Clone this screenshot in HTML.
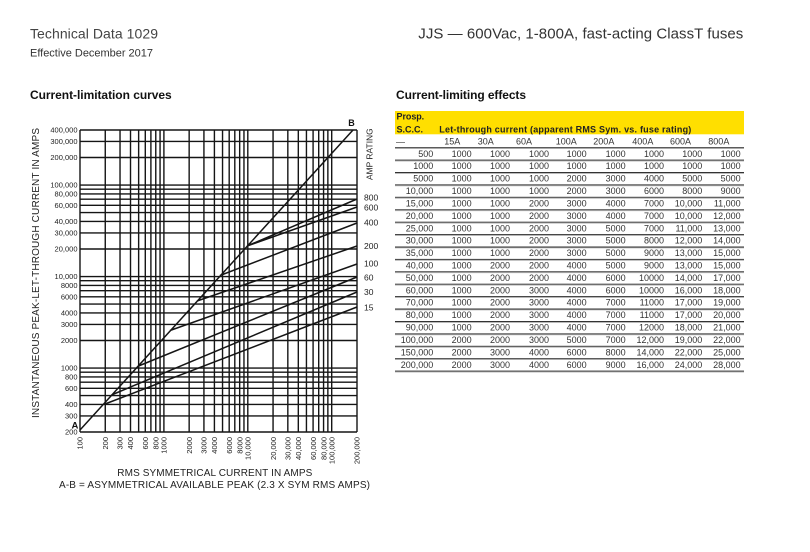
<!DOCTYPE html>
<html><head><meta charset="utf-8"><style>
html,body{margin:0;padding:0;background:#fff;}
svg{display:block;}
text{font-family:"Liberation Sans",sans-serif;}
</style></head><body>
<svg width="810" height="552" viewBox="0 0 810 552" xmlns="http://www.w3.org/2000/svg">
<rect width="810" height="552" fill="#fff"/>
<!-- headers -->
<text x="30" y="38.3" font-size="14" fill="#444" textLength="128">Technical Data 1029</text>
<text x="30" y="56.5" font-size="11" fill="#333" textLength="123">Effective December 2017</text>
<text x="418.3" y="38.5" font-size="15" fill="#333" textLength="325">JJS — 600Vac, 1-800A, fast-acting ClassT fuses</text>
<text x="30" y="99" font-size="12" font-weight="bold" fill="#111" textLength="141.7">Current-limitation curves</text>
<text x="396" y="99" font-size="12" font-weight="bold" fill="#111" textLength="130">Current-limiting effects</text>

<!-- chart grid -->
<path fill="none" stroke="#151515" stroke-width="1.4" d="M80 130V432M105.26 130V432M120.03 130V432M130.51 130V432M138.64 130V432M145.29 130V432M150.9 130V432M155.77 130V432M160.06 130V432M163.9 130V432M189.16 130V432M203.93 130V432M214.41 130V432M222.54 130V432M229.19 130V432M234.8 130V432M239.67 130V432M243.96 130V432M247.8 130V432M273.06 130V432M287.83 130V432M298.31 130V432M306.44 130V432M313.09 130V432M318.7 130V432M323.57 130V432M327.86 130V432M331.7 130V432M357 130V432"/>
<path fill="none" stroke="#151515" stroke-width="1.4" d="M80 432H357M80 415.89H357M80 404.46H357M80 395.59H357M80 388.34H357M80 382.22H357M80 376.91H357M80 372.23H357M80 368.04H357M80 340.5H357M80 324.39H357M80 312.96H357M80 304.09H357M80 296.84H357M80 290.72H357M80 285.41H357M80 280.73H357M80 276.54H357M80 249H357M80 232.89H357M80 221.46H357M80 212.59H357M80 205.34H357M80 199.22H357M80 193.91H357M80 189.23H357M80 185.04H357M80 157.5H357M80 141.39H357M80 130H357"/>
<!-- curves -->
<path fill="none" stroke="#151515" stroke-width="1.5" d="M80 430L353 130M105 404L357 307M111.5 395L357 292M138.5 366L357 277M170 330.5L357 264M197 301L357 246M220 275.5L357 223M247 246L357 207M247 246L357 199"/>

<!-- y tick labels -->
<g font-size="7.5" fill="#222" text-anchor="end">
<text x="77.5" y="132.7">400,000</text>
<text x="77.5" y="144.1">300,000</text>
<text x="77.5" y="160.2">200,000</text>
<text x="77.5" y="187.7">100,000</text>
<text x="77.5" y="196.6">80,000</text>
<text x="77.5" y="208">60,000</text>
<text x="77.5" y="224.2">40,000</text>
<text x="77.5" y="235.6">30,000</text>
<text x="77.5" y="251.7">20,000</text>
<text x="77.5" y="279.2">10,000</text>
<text x="77.5" y="288.1">8000</text>
<text x="77.5" y="299.5">6000</text>
<text x="77.5" y="315.7">4000</text>
<text x="77.5" y="327.1">3000</text>
<text x="77.5" y="343.2">2000</text>
<text x="77.5" y="370.7">1000</text>
<text x="77.5" y="379.6">800</text>
<text x="77.5" y="391">600</text>
<text x="77.5" y="407.2">400</text>
<text x="77.5" y="418.6">300</text>
<text x="77.5" y="434.7">200</text>
</g>
<!-- x tick labels -->
<g font-size="7.5" fill="#222" text-anchor="end">
<text transform="translate(82.7,437) rotate(-90)">100</text>
<text transform="translate(107.96,437) rotate(-90)">200</text>
<text transform="translate(122.73,437) rotate(-90)">300</text>
<text transform="translate(133.21,437) rotate(-90)">400</text>
<text transform="translate(147.99,437) rotate(-90)">600</text>
<text transform="translate(158.47,437) rotate(-90)">800</text>
<text transform="translate(166.6,437) rotate(-90)">1000</text>
<text transform="translate(191.86,437) rotate(-90)">2000</text>
<text transform="translate(206.63,437) rotate(-90)">3000</text>
<text transform="translate(217.11,437) rotate(-90)">4000</text>
<text transform="translate(231.89,437) rotate(-90)">6000</text>
<text transform="translate(242.37,437) rotate(-90)">8000</text>
<text transform="translate(250.5,437) rotate(-90)">10,000</text>
<text transform="translate(275.76,437) rotate(-90)">20,000</text>
<text transform="translate(290.53,437) rotate(-90)">30,000</text>
<text transform="translate(301.01,437) rotate(-90)">40,000</text>
<text transform="translate(315.79,437) rotate(-90)">60,000</text>
<text transform="translate(326.27,437) rotate(-90)">80,000</text>
<text transform="translate(334.4,437) rotate(-90)">100,000</text>
<text transform="translate(359.7,437) rotate(-90)">200,000</text>
</g>
<text x="71.5" y="428.3" font-size="9.5" font-weight="bold" fill="#111">A</text>
<text x="348.3" y="126" font-size="9" font-weight="bold" fill="#111">B</text>
<text transform="translate(39.2,273) rotate(-90)" text-anchor="middle" font-size="10" fill="#222" textLength="290">INSTANTANEOUS PEAK-LET-THROUGH CURRENT IN AMPS</text>
<text transform="translate(372.3,154.2) rotate(-90)" text-anchor="middle" font-size="8.3" fill="#222" textLength="51.7">AMP RATING</text>
<g font-size="8.5" fill="#222">
<text x="364" y="200.7">800</text>
<text x="364" y="210.5">600</text>
<text x="364" y="225.5">400</text>
<text x="364" y="249">200</text>
<text x="364" y="266.7">100</text>
<text x="364" y="280.7">60</text>
<text x="364" y="295">30</text>
<text x="364" y="310.3">15</text>
</g>
<text x="214.8" y="476" text-anchor="middle" font-size="10" fill="#222" textLength="195">RMS SYMMETRICAL CURRENT IN AMPS</text>
<text x="214.5" y="488" text-anchor="middle" font-size="10" fill="#222" textLength="311">A-B = ASYMMETRICAL AVAILABLE PEAK (2.3 X SYM RMS AMPS)</text>

<!-- table -->
<rect x="395" y="111" width="349" height="23.3" fill="#FFDF00"/>
<g font-size="9" font-weight="bold" fill="#222">
<text x="396.5" y="119.5" textLength="27.7">Prosp.</text>
<text x="396.5" y="132.5">S.C.C.</text>
<text x="439.3" y="132.5" textLength="252">Let-through current (apparent RMS Sym. vs. fuse rating)</text>
</g>
<g font-size="9" fill="#333">
<text x="396" y="144.3">—</text>
<text x="444.3" y="144.3">15A</text>
<text x="477.7" y="144.3">30A</text>
<text x="516" y="144.3">60A</text>
<text x="555.7" y="144.3">100A</text>
<text x="593.3" y="144.3">200A</text>
<text x="632.3" y="144.3">400A</text>
<text x="670" y="144.3">600A</text>
<text x="708.3" y="144.3">800A</text>
</g>
<g fill="#333">
<rect x="395" y="147.2" width="349" height="1"/>
<rect x="395" y="159.6" width="349" height="1"/>
<rect x="395" y="172.0" width="349" height="1"/>
<rect x="395" y="184.4" width="349" height="1"/>
<rect x="395" y="196.8" width="349" height="1"/>
<rect x="395" y="209.3" width="349" height="1"/>
<rect x="395" y="221.7" width="349" height="1"/>
<rect x="395" y="234.1" width="349" height="1"/>
<rect x="395" y="246.5" width="349" height="1"/>
<rect x="395" y="258.9" width="349" height="1"/>
<rect x="395" y="271.3" width="349" height="1"/>
<rect x="395" y="283.7" width="349" height="1"/>
<rect x="395" y="296.1" width="349" height="1"/>
<rect x="395" y="308.5" width="349" height="1"/>
<rect x="395" y="321.0" width="349" height="1"/>
<rect x="395" y="333.4" width="349" height="1"/>
<rect x="395" y="345.8" width="349" height="1"/>
<rect x="395" y="358.2" width="349" height="1"/>
<rect x="395" y="370.6" width="349" height="1"/>
</g>
<g fill="#aaa">
<rect x="395" y="148.2" width="349" height="0.8"/>
<rect x="395" y="160.6" width="349" height="0.8"/>
<rect x="395" y="173.0" width="349" height="0.8"/>
<rect x="395" y="185.4" width="349" height="0.8"/>
<rect x="395" y="197.8" width="349" height="0.8"/>
<rect x="395" y="210.3" width="349" height="0.8"/>
<rect x="395" y="222.7" width="349" height="0.8"/>
<rect x="395" y="235.1" width="349" height="0.8"/>
<rect x="395" y="247.5" width="349" height="0.8"/>
<rect x="395" y="259.9" width="349" height="0.8"/>
<rect x="395" y="272.3" width="349" height="0.8"/>
<rect x="395" y="284.7" width="349" height="0.8"/>
<rect x="395" y="297.1" width="349" height="0.8"/>
<rect x="395" y="309.5" width="349" height="0.8"/>
<rect x="395" y="322.0" width="349" height="0.8"/>
<rect x="395" y="334.4" width="349" height="0.8"/>
<rect x="395" y="346.8" width="349" height="0.8"/>
<rect x="395" y="359.2" width="349" height="0.8"/>
<rect x="395" y="371.6" width="349" height="0.8"/>
</g>
<g font-size="9" fill="#333" text-anchor="end">
<g transform="translate(0,156.8)"><text x="433.3">500</text><text x="471.7">1000</text><text x="510">1000</text><text x="549">1000</text><text x="586.7">1000</text><text x="625.7">1000</text><text x="664">1000</text><text x="702.3">1000</text><text x="740.7">1000</text></g>
<g transform="translate(0,169.2)"><text x="433.3">1000</text><text x="471.7">1000</text><text x="510">1000</text><text x="549">1000</text><text x="586.7">1000</text><text x="625.7">1000</text><text x="664">1000</text><text x="702.3">1000</text><text x="740.7">1000</text></g>
<g transform="translate(0,181.6)"><text x="433.3">5000</text><text x="471.7">1000</text><text x="510">1000</text><text x="549">1000</text><text x="586.7">2000</text><text x="625.7">3000</text><text x="664">4000</text><text x="702.3">5000</text><text x="740.7">5000</text></g>
<g transform="translate(0,194.0)"><text x="433.3">10,000</text><text x="471.7">1000</text><text x="510">1000</text><text x="549">1000</text><text x="586.7">2000</text><text x="625.7">3000</text><text x="664">6000</text><text x="702.3">8000</text><text x="740.7">9000</text></g>
<g transform="translate(0,206.4)"><text x="433.3">15,000</text><text x="471.7">1000</text><text x="510">1000</text><text x="549">2000</text><text x="586.7">3000</text><text x="625.7">4000</text><text x="664">7000</text><text x="702.3">10,000</text><text x="740.7">11,000</text></g>
<g transform="translate(0,218.9)"><text x="433.3">20,000</text><text x="471.7">1000</text><text x="510">1000</text><text x="549">2000</text><text x="586.7">3000</text><text x="625.7">4000</text><text x="664">7000</text><text x="702.3">10,000</text><text x="740.7">12,000</text></g>
<g transform="translate(0,231.3)"><text x="433.3">25,000</text><text x="471.7">1000</text><text x="510">1000</text><text x="549">2000</text><text x="586.7">3000</text><text x="625.7">5000</text><text x="664">7000</text><text x="702.3">11,000</text><text x="740.7">13,000</text></g>
<g transform="translate(0,243.7)"><text x="433.3">30,000</text><text x="471.7">1000</text><text x="510">1000</text><text x="549">2000</text><text x="586.7">3000</text><text x="625.7">5000</text><text x="664">8000</text><text x="702.3">12,000</text><text x="740.7">14,000</text></g>
<g transform="translate(0,256.1)"><text x="433.3">35,000</text><text x="471.7">1000</text><text x="510">1000</text><text x="549">2000</text><text x="586.7">3000</text><text x="625.7">5000</text><text x="664">9000</text><text x="702.3">13,000</text><text x="740.7">15,000</text></g>
<g transform="translate(0,268.5)"><text x="433.3">40,000</text><text x="471.7">1000</text><text x="510">2000</text><text x="549">2000</text><text x="586.7">4000</text><text x="625.7">5000</text><text x="664">9000</text><text x="702.3">13,000</text><text x="740.7">15,000</text></g>
<g transform="translate(0,280.9)"><text x="433.3">50,000</text><text x="471.7">1000</text><text x="510">2000</text><text x="549">2000</text><text x="586.7">4000</text><text x="625.7">6000</text><text x="664">10000</text><text x="702.3">14,000</text><text x="740.7">17,000</text></g>
<g transform="translate(0,293.3)"><text x="433.3">60,000</text><text x="471.7">1000</text><text x="510">2000</text><text x="549">3000</text><text x="586.7">4000</text><text x="625.7">6000</text><text x="664">10000</text><text x="702.3">16,000</text><text x="740.7">18,000</text></g>
<g transform="translate(0,305.7)"><text x="433.3">70,000</text><text x="471.7">1000</text><text x="510">2000</text><text x="549">3000</text><text x="586.7">4000</text><text x="625.7">7000</text><text x="664">11000</text><text x="702.3">17,000</text><text x="740.7">19,000</text></g>
<g transform="translate(0,318.2)"><text x="433.3">80,000</text><text x="471.7">1000</text><text x="510">2000</text><text x="549">3000</text><text x="586.7">4000</text><text x="625.7">7000</text><text x="664">11000</text><text x="702.3">17,000</text><text x="740.7">20,000</text></g>
<g transform="translate(0,330.6)"><text x="433.3">90,000</text><text x="471.7">1000</text><text x="510">2000</text><text x="549">3000</text><text x="586.7">4000</text><text x="625.7">7000</text><text x="664">12000</text><text x="702.3">18,000</text><text x="740.7">21,000</text></g>
<g transform="translate(0,343.0)"><text x="433.3">100,000</text><text x="471.7">2000</text><text x="510">2000</text><text x="549">3000</text><text x="586.7">5000</text><text x="625.7">7000</text><text x="664">12,000</text><text x="702.3">19,000</text><text x="740.7">22,000</text></g>
<g transform="translate(0,355.4)"><text x="433.3">150,000</text><text x="471.7">2000</text><text x="510">3000</text><text x="549">4000</text><text x="586.7">6000</text><text x="625.7">8000</text><text x="664">14,000</text><text x="702.3">22,000</text><text x="740.7">25,000</text></g>
<g transform="translate(0,367.8)"><text x="433.3">200,000</text><text x="471.7">2000</text><text x="510">3000</text><text x="549">4000</text><text x="586.7">6000</text><text x="625.7">9000</text><text x="664">16,000</text><text x="702.3">24,000</text><text x="740.7">28,000</text></g>
</g>
</svg>
</body></html>
